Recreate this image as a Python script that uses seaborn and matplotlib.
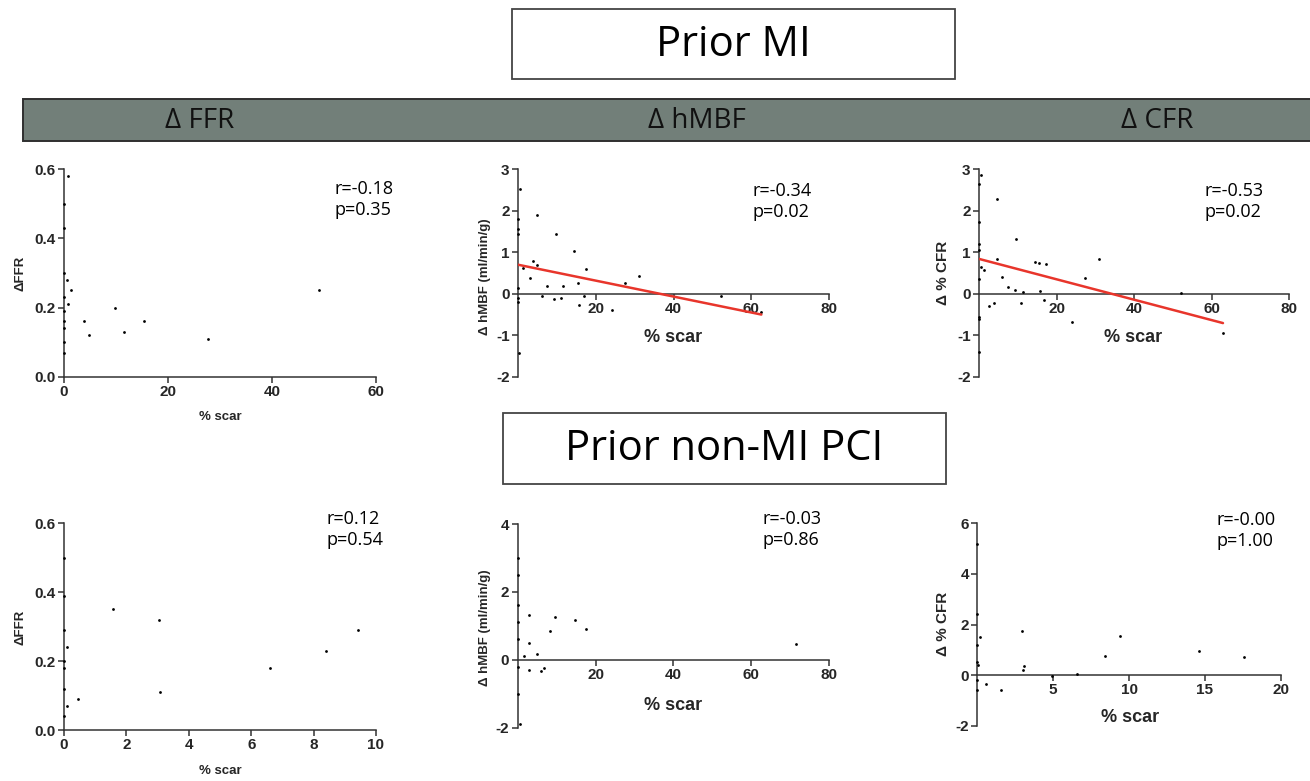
import numpy as np
import pandas as pd
import matplotlib
matplotlib.use("Agg")
import matplotlib.pyplot as plt
from matplotlib.patches import Rectangle
import seaborn as sns

sns.set_style("ticks")
plt.rcParams['font.family'] = ['Liberation Sans', 'DejaVu Sans']

W, H = 1310, 781

# Prior MI - delta FFR
mi_ffr_scar = [0.7, 0.5, 1.3, 0.8, 3.9, 4.9, 9.8, 11.5, 15.4, 27.6, 49.0,
               0, 0, 0, 0, 0, 0, 0, 0, 0]
mi_ffr_val = [0.58, 0.28, 0.25, 0.21, 0.16, 0.12, 0.20, 0.13, 0.16, 0.11, 0.25,
              0.50, 0.43, 0.30, 0.23, 0.19, 0.16, 0.14, 0.10, 0.07]

# Prior MI - delta hMBF
mi_mbf_scar = [0.6, 4.9, 9.8, 14.5, 3.9, 4.9, 1.3, 3.0, 17.5, 31.2, 27.4, 15.5,
               7.5, 11.5, 6.1, 9.2, 11.0, 16.9, 15.6, 24.1, 52.1, 62.6, 0.3,
               0, 0, 0, 0, 0, 0]
mi_mbf_val = [2.53, 1.89, 1.44, 1.04, 0.79, 0.70, 0.62, 0.39, 0.60, 0.42, 0.27, 0.27,
              0.19, 0.18, -0.05, -0.13, -0.10, -0.06, -0.28, -0.39, -0.06, -0.44, -1.43,
              1.80, 1.55, 1.45, 0.15, -0.10, -0.20]
mi_mbf_fit = (0.70, -0.0192)

# Prior MI - delta CFR
mi_cfr_scar = [0.5, 4.6, 0.0, 9.6, 4.6, 31.0, 14.4, 15.4, 17.4, 0.5, 1.2, 6.0,
               27.4, 7.4, 9.2, 11.3, 15.6, 52.1, 16.8, 10.8, 3.8, 2.7, 24.0, 62.9,
               0, 0, 0, 0, 0, 0, 0]
mi_cfr_val = [2.86, 2.29, 1.73, 1.33, 0.83, 0.83, 0.77, 0.73, 0.72, 0.65, 0.58, 0.41,
              0.39, 0.16, 0.09, 0.05, 0.06, 0.02, -0.16, -0.23, -0.22, -0.29, -0.69, -0.95,
              2.65, 1.20, 1.05, 0.35, -0.55, -0.60, -1.40]
mi_cfr_fit = (0.84, -0.0246)

# Prior non-MI PCI - delta FFR
pci_ffr_scar = [0.10, 0.10, 0.45, 1.57, 3.04, 3.08, 6.59, 8.41, 9.42,
                0, 0, 0, 0, 0, 0, 0]
pci_ffr_val = [0.24, 0.07, 0.09, 0.35, 0.32, 0.11, 0.18, 0.23, 0.29,
               0.50, 0.39, 0.29, 0.20, 0.18, 0.12, 0.04]

# Prior non-MI PCI - delta hMBF
pci_mbf_scar = [2.9, 9.5, 14.6, 17.5, 8.4, 3.0, 4.9, 1.6, 3.0, 6.0, 6.7, 71.4, 0.6, 0.2,
                0, 0, 0, 0, 0, 0]
pci_mbf_val = [1.33, 1.25, 1.17, 0.91, 0.84, 0.49, 0.18, 0.11, -0.29, -0.32, -0.23, 0.46, -1.89, 1.10,
               3.0, 2.5, 1.6, 0.6, -0.2, -1.0]

# Prior non-MI PCI - delta CFR
pci_cfr_scar = [0.2, 2.95, 3.08, 3.03, 9.43, 8.40, 14.6, 17.56, 6.57, 4.9, 0.59, 1.54, 0.04,
                0, 0, 0, 0, 0, 0]
pci_cfr_val = [1.50, 1.76, 0.37, 0.20, 1.55, 0.75, 0.97, 0.73, 0.03, -0.03, -0.37, -0.57, 0.40,
               5.2, 2.4, 1.2, 0.5, -0.2, -0.6]

stats_text = ["r=-0.18\np=0.35", "r=-0.34\np=0.02", "r=-0.53\np=0.02",
              "r=0.12\np=0.54", "r=-0.03\np=0.86", "r=-0.00\np=1.00"]
col_titles = ["\u0394 FFR", "\u0394 hMBF", "\u0394 CFR"]
row_titles = ["Prior MI", "Prior non-MI PCI"]

fig = plt.figure(figsize=(W / 100, H / 100), dpi=100)


def fx(x):
    return x / W


def fy(y):
    return 1 - y / H


def make_ax(l, r, t, b):
    return fig.add_axes([fx(l), fy(b), (r - l) / W, (b - t) / H])


def style(ax, xlim, ylim, xticks, yticks, yfmt, cross):
    ax.set_xlim(*xlim)
    ax.set_ylim(*ylim)
    ax.set_xticks(xticks)
    ax.set_yticks(yticks)
    ax.set_yticklabels([yfmt.format(v) for v in yticks])
    for s in ["top", "right"]:
        ax.spines[s].set_visible(False)
    for s in ["left", "bottom"]:
        ax.spines[s].set_linewidth(1.1)
        ax.spines[s].set_color("#333333")
    if cross:
        ax.spines["bottom"].set_position(("data", 0))
    ax.tick_params(direction="out", length=4, width=1.1, color="#333333",
                   labelsize=11, pad=2)
    for lab in ax.get_xticklabels() + ax.get_yticklabels():
        lab.set_fontweight("bold")
    ax.set_xlabel("")
    ax.set_ylabel("")
    ax.patch.set_alpha(0)


def dots(ax, x, y):
    df = pd.DataFrame({"scar": x, "val": y})
    sns.scatterplot(data=df, x="scar", y="val", ax=ax, color="black", s=4,
                    linewidth=0, clip_on=False, zorder=3)


def fit_line(ax, x, fit):
    xs = np.array([0, max(x)])
    df = pd.DataFrame({"scar": xs, "val": fit[0] + fit[1] * xs})
    sns.lineplot(data=df, x="scar", y="val", ax=ax, color="#e8352b", lw=1.8, zorder=4)


# top row
ax1 = make_ax(64, 376, 169.3, 376.7)
dots(ax1, mi_ffr_scar, mi_ffr_val)
style(ax1, (0, 60), (0, 0.6), [0, 20, 40, 60], [0.0, 0.2, 0.4, 0.6], "{:.1f}", False)

ax2 = make_ax(518, 829, 169.3, 376.7)
dots(ax2, mi_mbf_scar, mi_mbf_val)
fit_line(ax2, mi_mbf_scar, mi_mbf_fit)
style(ax2, (0, 80), (-2, 3), [20, 40, 60, 80], [-2, -1, 0, 1, 2, 3], "{:d}", True)

ax3 = make_ax(979, 1289.3, 169.3, 376.7)
dots(ax3, mi_cfr_scar, mi_cfr_val)
fit_line(ax3, mi_cfr_scar, mi_cfr_fit)
style(ax3, (0, 80), (-2, 3), [20, 40, 60, 80], [-2, -1, 0, 1, 2, 3], "{:d}", True)

# bottom row
ax4 = make_ax(64, 376, 523.3, 730)
dots(ax4, pci_ffr_scar, pci_ffr_val)
style(ax4, (0, 10), (0, 0.6), [0, 2, 4, 6, 8, 10], [0.0, 0.2, 0.4, 0.6], "{:.1f}", False)

ax5 = make_ax(517.7, 829, 524, 727.7)
dots(ax5, pci_mbf_scar, pci_mbf_val)
style(ax5, (0, 80), (-2, 4), [20, 40, 60, 80], [-2, 0, 2, 4], "{:d}", True)

ax6 = make_ax(977.3, 1280.7, 523.3, 725.7)
dots(ax6, pci_cfr_scar, pci_cfr_val)
style(ax6, (0, 20), (-2, 6), [5, 10, 15, 20], [-2, 0, 2, 4, 6], "{:d}", True)

# stats annotations
stat_pos = [(335, 180), (752, 182), (1205, 182), (326, 510), (762, 510), (1217, 511)]
for (x, y), t in zip(stat_pos, stats_text):
    fig.text(fx(x), fy(y), t, ha="left", va="top", fontsize=13, color="black",
             family=["Open Sans", "DejaVu Sans"], linespacing=1.2)

# axis labels
ylabels = [("\u0394FFR", 20, 273, 9.5), ("\u0394 hMBF (ml/min/g)", 485, 277, 9.5),
           ("\u0394 % CFR", 943, 273, 11), ("\u0394FFR", 20, 627, 9.5),
           ("\u0394 hMBF (ml/min/g)", 485, 628, 9.5), ("\u0394 % CFR", 943, 624, 11)]
for t, x, y, fs in ylabels:
    fig.text(fx(x), fy(y), t, rotation=90, ha="center", va="center",
             fontsize=fs, fontweight="bold")

xlabels = [(220, 417, 9.5), (673, 337, 13), (1133, 337, 13),
           (220, 771, 9.5), (673, 706, 13), (1130, 717, 13)]
for x, y, fs in xlabels:
    fig.text(fx(x), fy(y), "% scar", ha="center", va="center",
             fontsize=fs, fontweight="bold")

# header boxes
for (l, t, r, b), title in zip([(512, 8.5, 955, 79), (503, 413, 946, 484)], row_titles):
    fig.patches.append(Rectangle((fx(l), fy(b)), (r - l) / W, (b - t) / H,
                                 transform=fig.transFigure, facecolor="white",
                                 edgecolor="#444444", lw=1.3))
    fig.text(fx((l + r) / 2), fy((t + b) / 2 + 1), title, ha="center", va="center",
             fontsize=30, color="black", family=["Open Sans", "DejaVu Sans"])

fig.patches.append(Rectangle((fx(22.5), fy(140.5)), (1312 - 22.5) / W, (140.5 - 99) / H,
                             transform=fig.transFigure, facecolor="#727f79",
                             edgecolor="#2f2f2f", lw=1.4))
for x, t in zip([200, 697, 1157], col_titles):
    fig.text(fx(x), fy(121), t, ha="center", va="center", fontsize=20,
             family=["Open Sans", "DejaVu Sans"], color="#111111")

fig.savefig("out.png", dpi=100)
